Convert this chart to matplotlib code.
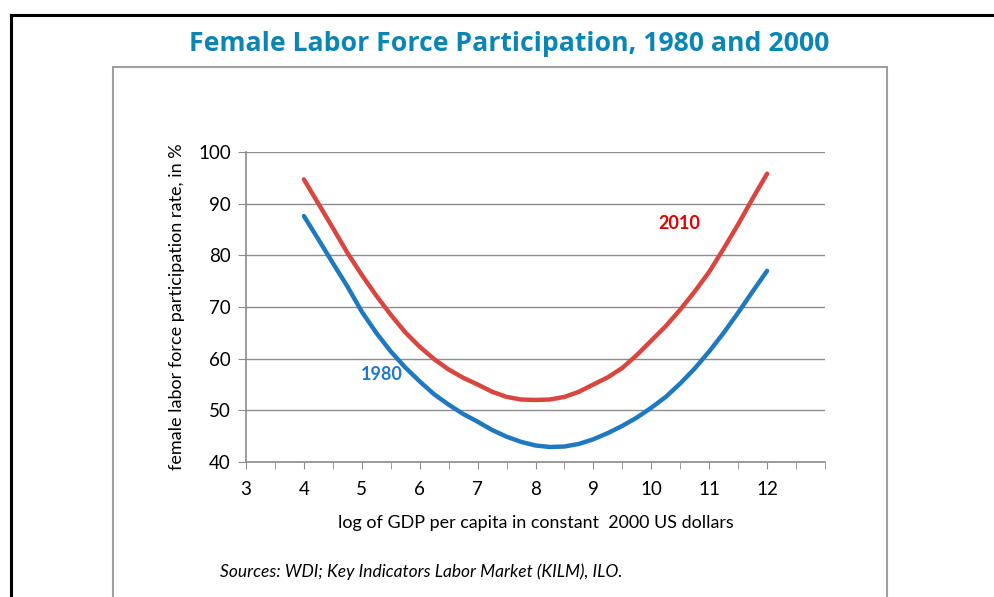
import numpy as np
import matplotlib
matplotlib.use("Agg")
import matplotlib.pyplot as plt
from matplotlib.lines import Line2D
from matplotlib.patches import Rectangle

plt.rcParams['font.family'] = ['Lato', 'DejaVu Sans']

# log GDP per capita grid (0.25 steps) and the two fitted curves
gdp_log = [4.00, 4.25, 4.50, 4.75, 5.00, 5.25, 5.50, 5.75, 6.00, 6.25, 6.50,
           6.75, 7.00, 7.25, 7.50, 7.75, 8.00, 8.25, 8.50, 8.75, 9.00, 9.25,
           9.50, 9.75, 10.00, 10.25, 10.50, 10.75, 11.00, 11.25, 11.50, 11.75, 12.00]
flfp_1980 = [87.6, 83.1, 78.5, 74.0, 69.1, 65.0, 61.4, 58.3, 55.6, 53.1, 51.1,
             49.3, 47.8, 46.2, 44.9, 43.9, 43.2, 42.9, 43.0, 43.5, 44.4, 45.6,
             47.0, 48.6, 50.5, 52.6, 55.2, 58.1, 61.4, 65.0, 68.9, 73.0, 77.0]
flfp_2010 = [94.7, 90.0, 85.3, 80.5, 76.2, 72.2, 68.5, 65.1, 62.3, 59.9, 57.9,
             56.3, 55.0, 53.6, 52.6, 52.1, 52.0, 52.1, 52.6, 53.6, 55.0, 56.4,
             58.2, 60.7, 63.5, 66.3, 69.5, 73.0, 76.8, 81.3, 86.0, 91.0, 95.8]
x_ticks = [3, 4, 5, 6, 7, 8, 9, 10, 11, 12]
y_ticks = [40, 50, 60, 70, 80, 90, 100]

W, H = 994, 597
fig = plt.figure(figsize=(W / 100, H / 100), dpi=100)

# slide frame: black border and grey chart box (pixel coords -> figure fraction)
def px(x, y):
    return x / W, 1 - y / H

fig.add_artist(Line2D([11 / W, 1], [1 - 15 / H] * 2, color='black', lw=2.2))
fig.add_artist(Line2D([11 / W] * 2, [0, 1 - 15 / H], color='black', lw=2.2))
fig.add_artist(Rectangle(px(113, 600), (887 - 113) / W, (600 - 67) / H,
                         fill=False, ec='#a0a0a0', lw=1.5))

fig.text(509 / W, 1 - 44 / H, 'Female Labor Force Participation, 1980 and 2000',
         ha='center', va='center', fontsize=19.2, fontweight='bold',
         color='#0a86b4', family=['Open Sans', 'DejaVu Sans'])

ax = fig.add_axes([246 / W, 1 - 462 / H, (825 - 246) / W, (462 - 152) / H])
ax.plot(gdp_log, flfp_2010, color='#d9463f', lw=3.2, solid_capstyle='round')
ax.plot(gdp_log, flfp_1980, color='#1f79bf', lw=3.2, solid_capstyle='round')

ax.text(5.35, 57.0, '1980', color='#1f78c8', fontsize=13, fontweight='bold',
        ha='center', va='center')
ax.text(10.49, 86.2, '2010', color='#e00000', fontsize=13, fontweight='bold',
        ha='center', va='center')

ax.set_xlim(3, 13)
ax.set_ylim(40, 100)
ax.set_xticks(x_ticks)
ax.set_xticks(np.arange(3, 13.01, 0.5), minor=True)
ax.set_yticks(y_ticks)
ax.grid(axis='y', color='#8c8c8c', lw=1)
ax.set_axisbelow(True)
for s in ['top', 'right']:
    ax.spines[s].set_visible(False)
for s in ['left', 'bottom']:
    ax.spines[s].set_color('#8c8c8c')
    ax.spines[s].set_linewidth(1.2)
ax.tick_params(axis='x', which='both', length=5, color='#8c8c8c', labelsize=13.5, pad=9)
ax.tick_params(axis='y', length=6, color='#8c8c8c', labelsize=13.5, pad=5)

ax.set_xlabel('log of GDP per capita in constant  2000 US dollars', fontsize=12.9, labelpad=12)
ax.set_ylabel('female labor force participation rate, in %', fontsize=13, labelpad=9)

fig.text(220 / W, 1 - 572 / H, 'Sources: WDI; Key Indicators Labor Market (KILM), ILO.',
         ha='left', va='center', fontsize=12.5, style='italic')

fig.savefig('out.png', dpi=100)
